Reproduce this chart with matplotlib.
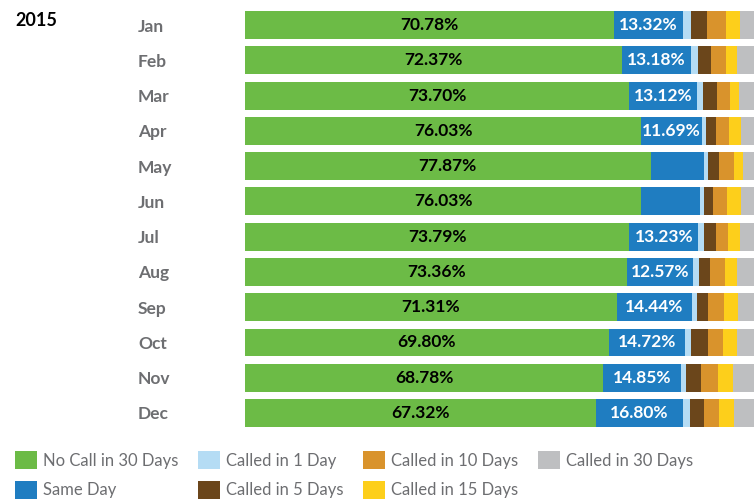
import numpy as np
import matplotlib
matplotlib.use('Agg')
import matplotlib.pyplot as plt
from matplotlib.patches import Patch

plt.rcParams['font.family'] = ['Lato', 'DejaVu Sans']

# data (percent of customers)
months = ['Jan', 'Feb', 'Mar', 'Apr', 'May', 'Jun',
          'Jul', 'Aug', 'Sep', 'Oct', 'Nov', 'Dec']
no_call = [70.78, 72.37, 73.70, 76.03, 77.87, 76.03, 73.79, 73.36, 71.31, 69.80, 68.78, 67.32]
same_day = [13.32, 13.18, 13.12, 11.69, 10.20, 11.30, 13.23, 12.57, 14.44, 14.72, 14.85, 16.80]
called_1 = [1.5, 1.4, 1.1, 0.8, 0.8, 0.8, 1.0, 1.3, 1.0, 1.0, 1.0, 1.3]
called_5 = [3.1, 2.5, 2.7, 1.9, 2.2, 1.7, 2.3, 2.1, 2.1, 3.3, 2.9, 2.7]
called_10 = [3.6, 2.8, 2.5, 2.5, 2.7, 2.7, 2.3, 2.8, 3.1, 2.9, 3.3, 2.9]
called_15 = [2.7, 2.2, 1.7, 2.3, 1.8, 2.7, 2.3, 2.4, 2.7, 2.7, 2.9, 2.9]
called_30 = [5.00, 5.55, 5.18, 4.78, 4.43, 4.77, 5.08, 5.47, 5.35, 5.58, 6.27, 6.08]
no_label_same_day = ['May', 'Jun']

series = [
    ('No Call in 30 Days', no_call, '#6cbb46'),
    ('Same Day', same_day, '#1f7dc1'),
    ('Called in 1 Day', called_1, '#b5dcf4'),
    ('Called in 5 Days', called_5, '#6b461b'),
    ('Called in 10 Days', called_10, '#d9932c'),
    ('Called in 15 Days', called_15, '#fdcf1b'),
    ('Called in 30 Days', called_30, '#bebfc1'),
]

fig = plt.figure(figsize=(7.54, 5.0), dpi=100)
ax = fig.add_axes([245 / 754, 0.1388, 1 - 245 / 754, 0.985 - 0.1388])

y = np.arange(len(months))
left = np.zeros(len(months))
for name, vals, color in series:
    vals = np.array(vals)
    ax.barh(y, vals, left=left, height=0.79, color=color, label=name, linewidth=0)
    if name == 'No Call in 30 Days':
        for yi, l, v in zip(y, left, vals):
            ax.text(l + v / 2, yi, f'{v:.2f}%', ha='center', va='center',
                    fontsize=12.5, fontweight='bold', color='black')
    elif name == 'Same Day':
        for m, yi, l, v in zip(months, y, left, vals):
            if m in no_label_same_day:
                continue
            ax.text(l + v / 2, yi, f'{v:.2f}%', ha='center', va='center',
                    fontsize=12.5, fontweight='bold', color='white')
    left += vals

ax.set_xlim(0, 97.7)
ax.set_ylim(len(months) - 0.5, -0.5)
for s in ax.spines.values():
    s.set_visible(False)
ax.set_xticks([])
ax.set_yticks(y)
ax.set_yticklabels(months, fontsize=12.5, fontweight='bold', color='#6d6e71', ha='left')
ax.tick_params(axis='y', length=0, pad=77)

fig.text(15 / 754, 1 - 21 / 500, '2015', fontsize=13, fontweight='bold',
         color='black', va='center', ha='left')

handles = [Patch(facecolor=c, edgecolor='none') for _, _, c in series]
labels = [n for n, _, _ in series]
fig.legend(handles, labels, ncol=4, loc='upper left',
           bbox_to_anchor=(15 / 754, 1 - 451 / 500), frameon=False,
           fontsize=12, labelcolor='#6d6e71', handlelength=1.3, handleheight=1.3,
           handletextpad=0.36, columnspacing=1.2, labelspacing=0.7,
           borderpad=0, borderaxespad=0)

fig.savefig('out.png', dpi=100)
